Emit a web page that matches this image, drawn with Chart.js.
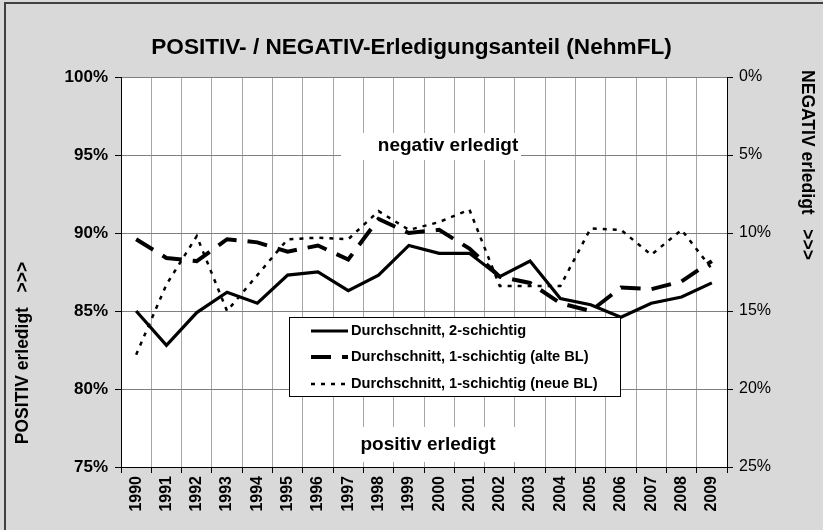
<!DOCTYPE html>
<html>
<head>
<meta charset="utf-8">
<script src="https://cdn.jsdelivr.net/npm/chart.js@4/dist/chart.umd.min.js"></script>
<style>
  html, body { margin: 0; padding: 0; background: #d9d9d9; }
  #wrap { width: 823px; height: 530px; }
</style>
</head>
<body>
<div id="wrap"><canvas id="c" width="823" height="530"></canvas></div>
<script>
const years = ['1990','1991','1992','1993','1994','1995','1996','1997','1998','1999','2000','2001','2002','2003','2004','2005','2006','2007','2008','2009'];
const zweiSchichtig = [85.0, 82.8, 84.9, 86.2, 85.5, 87.3, 87.5, 86.3, 87.3, 89.2, 88.7, 88.7, 87.2, 88.2, 85.8, 85.4, 84.6, 85.5, 85.9, 86.8];
const einSchichtigAlt = [89.6, 88.4, 88.2, 89.6, 89.4, 88.8, 89.2, 88.3, 90.9, 90.0, 90.2, 89.0, 87.2, 86.8, 85.5, 85.0, 86.5, 86.4, 86.9, 88.2];
const einSchichtigNeu = [82.2, 86.7, 89.8, 85.0, 87.3, 89.6, 89.7, 89.6, 91.4, 90.2, 90.7, 91.5, 86.6, 86.6, 86.6, 90.3, 90.2, 88.6, 90.2, 87.7];
const leftTicks = [75, 80, 85, 90, 95, 100];
const rightTicks = [0, 5, 10, 15, 20, 25];
const seriesLabels = ['Durchschnitt, 2-schichtig', 'Durchschnitt, 1-schichtig (alte BL)', 'Durchschnitt, 1-schichtig (neue BL)'];
const chartTitle = 'POSITIV- / NEGATIV-Erledigungsanteil (NehmFL)';
const leftTitle = 'POSITIV erledigt   >>>';
const rightTitle = 'NEGATIV erledigt   >>>';
const noteTop = 'negativ erledigt';
const noteBottom = 'positiv erledigt';

const FONT = "'Liberation Sans', Arial, Helvetica, sans-serif";
const NARROW = "'Liberation Sans Narrow', 'Arial Narrow', 'Liberation Sans', Arial, sans-serif";

const decor = {
  id: 'decor',
  beforeDraw(chart) {
    const { ctx, chartArea: a } = chart;
    ctx.save();
    ctx.fillStyle = '#d9d9d9';
    ctx.fillRect(0, 0, chart.width, chart.height);
    ctx.strokeStyle = '#404040';
    ctx.lineWidth = 2;
    ctx.beginPath();
    ctx.moveTo(5, chart.height);
    ctx.lineTo(5, 3);
    ctx.lineTo(chart.width, 3);
    ctx.stroke();
    ctx.fillStyle = '#ffffff';
    ctx.fillRect(a.left, a.top, a.right - a.left, a.bottom - a.top);
    ctx.restore();
  },
  beforeDatasetsDraw(chart) {
    const { ctx } = chart;
    ctx.save();
    ctx.fillStyle = '#ffffff';
    ctx.fillRect(341, 133, 180, 27);
    ctx.fillRect(340, 427, 190, 35);
    ctx.fillStyle = '#000';
    ctx.font = 'bold 19px ' + FONT;
    ctx.textAlign = 'center';
    ctx.textBaseline = 'middle';
    ctx.fillText(noteTop, 448, 146);
    ctx.fillText(noteBottom, 428, 445);
    ctx.restore();
  },
  afterDatasetsDraw(chart) {
    const { ctx } = chart;
    ctx.save();
    ctx.fillStyle = '#ffffff';
    ctx.fillRect(289.5, 317.5, 331, 79);
    ctx.strokeStyle = '#000';
    ctx.lineWidth = 1;
    ctx.strokeRect(289.5, 317.5, 331, 79);
    const rows = [331, 357, 384];
    chart.data.datasets.forEach((ds, i) => {
      const y = rows[i];
      ctx.save();
      ctx.strokeStyle = ds.borderColor;
      ctx.lineWidth = ds.borderWidth;
      ctx.setLineDash(ds.borderDash || []);
      ctx.beginPath();
      ctx.moveTo(311, y);
      ctx.lineTo(348, y);
      ctx.stroke();
      ctx.restore();
      ctx.fillStyle = '#000';
      ctx.font = 'bold 14.6px ' + FONT;
      ctx.textAlign = 'left';
      ctx.textBaseline = 'middle';
      ctx.fillText(ds.label, 351, y);
    });
    ctx.restore();
  },
  afterDraw(chart) {
    const { ctx } = chart;
    ctx.save();
    ctx.fillStyle = '#000';
    ctx.textAlign = 'center';
    ctx.textBaseline = 'middle';
    ctx.font = 'bold 22.6px ' + FONT;
    ctx.fillText(chartTitle, 411.5, 48);
    ctx.font = 'bold 17.5px ' + FONT;
    ctx.save();
    ctx.translate(23, 353);
    ctx.rotate(-Math.PI / 2);
    ctx.fillText(leftTitle, 0, 0);
    ctx.restore();
    ctx.save();
    ctx.translate(807, 165);
    ctx.rotate(Math.PI / 2);
    ctx.fillText(rightTitle, 0, 0);
    ctx.restore();
    ctx.restore();
  }
};

new Chart(document.getElementById('c'), {
  type: 'line',
  data: {
    labels: years,
    datasets: [
      { label: seriesLabels[0], data: zweiSchichtig, borderColor: '#000', borderWidth: 3.2, pointRadius: 0, tension: 0, fill: false, yAxisID: 'y' },
      { label: seriesLabels[1], data: einSchichtigAlt, borderColor: '#000', borderWidth: 4, borderDash: [20, 11], pointRadius: 0, tension: 0, fill: false, yAxisID: 'y' },
      { label: seriesLabels[2], data: einSchichtigNeu, borderColor: '#000', borderWidth: 2.5, borderDash: [4, 6], pointRadius: 0, tension: 0, fill: false, yAxisID: 'y' }
    ]
  },
  options: {
    responsive: false,
    animation: false,
    devicePixelRatio: 1,
    layout: { padding: { top: 77, left: 0, right: 0, bottom: 0 } },
    plugins: { legend: { display: false }, title: { display: false }, tooltip: { enabled: false } },
    scales: {
      x: {
        type: 'category',
        offset: true,
        grid: { offset: true, color: '#a6a6a6', lineWidth: 1, tickLength: 6, tickColor: '#000' },
        border: { color: '#000', width: 1 },
        ticks: { color: '#000', font: { family: FONT, size: 16, weight: 'bold' }, minRotation: 90, maxRotation: 90, autoSkip: false, padding: 3 },
        afterFit(s) { s.height = 63; }
      },
      y: {
        position: 'left',
        min: leftTicks[0],
        max: leftTicks[leftTicks.length - 1],
        afterBuildTicks(s) { s.ticks = leftTicks.map(v => ({ value: v })); },
        ticks: { color: '#000', font: { family: FONT, size: 17, weight: 'bold' }, padding: 7, callback: v => v + '%' },
        grid: { color: '#7f7f7f', lineWidth: 1, tickLength: 6, tickColor: '#000' },
        border: { color: '#000', width: 1 },
        afterFit(s) { s.width = 121; }
      },
      y2: {
        position: 'right',
        reverse: true,
        min: rightTicks[0],
        max: rightTicks[rightTicks.length - 1],
        afterBuildTicks(s) { s.ticks = rightTicks.map(v => ({ value: v })); },
        ticks: { color: '#000', font: { family: NARROW, size: 16 }, padding: 6, callback: v => v + '%' },
        grid: { drawOnChartArea: false, tickLength: 6, tickColor: '#000' },
        border: { color: '#000', width: 1 },
        afterFit(s) { s.width = 96; }
      }
    }
  },
  plugins: [decor]
});
</script>
</body>
</html>
